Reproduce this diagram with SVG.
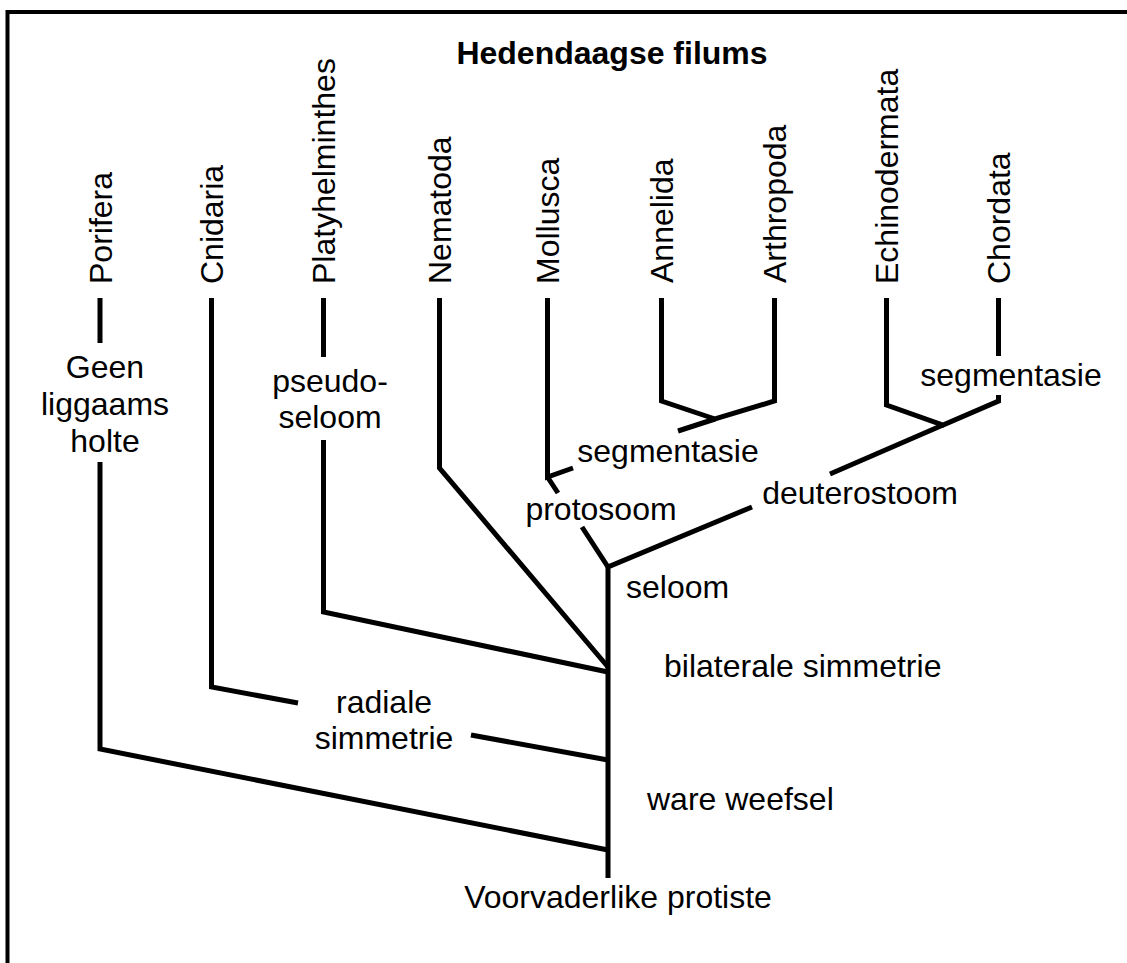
<svg xmlns="http://www.w3.org/2000/svg" width="1127" height="963" viewBox="0 0 1127 963">
<style>
text{font-family:"Liberation Sans",Arial,sans-serif;font-size:32px;fill:#000}
.t{font-weight:bold}
.c{text-anchor:middle}
.ln{fill:none;stroke:#000;stroke-width:5;stroke-linejoin:miter;stroke-linecap:butt}
</style>
<rect width="1127" height="963" fill="#fff"/>
<path d="M7.5,963 V12 H1127" fill="none" stroke="#000" stroke-width="4"/>
<g id="title"><text class="t c" x="612" y="64">Hedendaagse filums</text></g>
<g id="porifera"><text transform="translate(111.5,284) rotate(-90)">Porifera</text></g>
<g id="cnidaria"><text transform="translate(223,284) rotate(-90)">Cnidaria</text></g>
<g id="platyhelminthes"><text transform="translate(335,284) rotate(-90)">Platyhelminthes</text></g>
<g id="nematoda"><text transform="translate(451,284) rotate(-90)">Nematoda</text></g>
<g id="mollusca"><text transform="translate(559,284) rotate(-90)">Mollusca</text></g>
<g id="annelida"><text transform="translate(673,283) rotate(-90)">Annelida</text></g>
<g id="arthropoda"><text transform="translate(786,283) rotate(-90)">Arthropoda</text></g>
<g id="echinodermata"><text transform="translate(898,284) rotate(-90)">Echinodermata</text></g>
<g id="chordata"><text transform="translate(1010,284) rotate(-90)">Chordata</text></g>
<g id="geen-liggaamsholte"><text class="c" x="105" y="378">Geen</text><text class="c" x="105" y="415">liggaams</text><text class="c" x="105" y="452">holte</text></g>
<g id="pseudoseloom"><text class="c" x="330" y="392">pseudo-</text><text class="c" x="330" y="428">seloom</text></g>
<g id="radiale-simmetrie"><text class="c" x="384" y="713">radiale</text><text class="c" x="384" y="749">simmetrie</text></g>
<g id="segmentasie-1"><text class="c" x="668" y="462">segmentasie</text></g>
<g id="protosoom"><text class="c" x="601" y="520">protosoom</text></g>
<g id="segmentasie-2"><text class="c" x="1011" y="386">segmentasie</text></g>
<g id="deuterostoom"><text class="c" x="860" y="504">deuterostoom</text></g>
<g id="seloom"><text x="626" y="598">seloom</text></g>
<g id="bilaterale-simmetrie"><text x="664" y="677">bilaterale simmetrie</text></g>
<g id="ware-weefsel"><text x="647" y="810">ware weefsel</text></g>
<g id="voorvaderlike-protiste"><text class="c" x="618" y="908">Voorvaderlike protiste</text></g>
<g id="connectors" class="ln">
<path class="ln" d="M100,298 V343 M100,462 V749 L608,850"/>
<path class="ln" d="M211.5,298 V687 L298,703 M471,735 L608,760"/>
<path class="ln" d="M323.5,298 V357 M323.5,440 V612 L608,672"/>
<path class="ln" d="M439.5,298 V468 L608,667"/>
<path class="ln" d="M547.5,298 V477 L573,468 M678,431 L715,419"/>
<path class="ln" d="M547.5,477 L558,493 M582,527 L608,567"/>
<path class="ln" d="M661.5,298 V401 L715,419 L774.5,401 V298"/>
<path class="ln" d="M886.5,298 V405 L943,425 L998.5,401 V395 M998.5,356 V298"/>
<path class="ln" d="M943,425 L830,474 M752,507 L608,567 V878"/>
</g>
</svg>
